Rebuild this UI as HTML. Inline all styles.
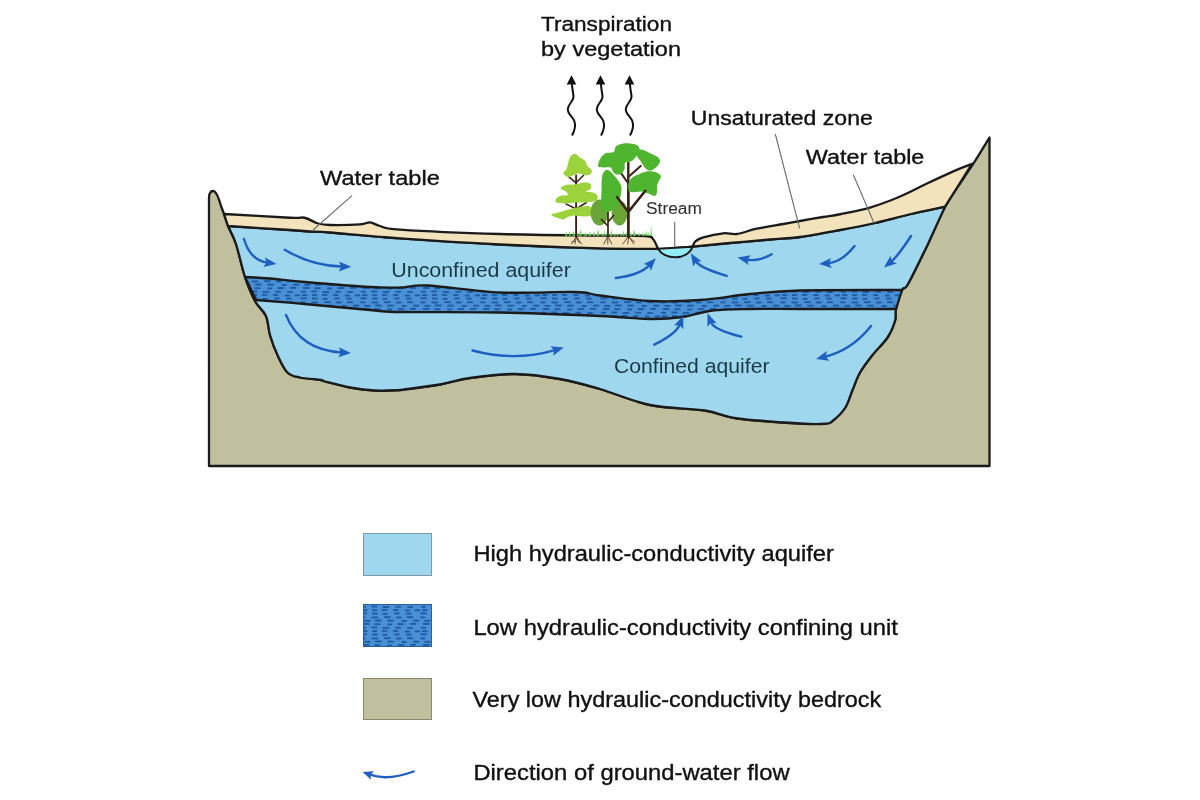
<!DOCTYPE html>
<html><head><meta charset="utf-8"><style>
html,body{margin:0;padding:0;background:#fff;width:1200px;height:800px;overflow:hidden}
svg{display:block;will-change:transform}
</style></head><body>
<svg width="1200" height="800" viewBox="0 0 1200 800">
<defs>
<pattern id="dash" patternUnits="userSpaceOnUse" width="60" height="21" x="0" y="0">
<rect width="60" height="21" fill="#4a90d4"/>
<g fill="#1f5ca6"><rect x="1.9" y="0.2" width="5.5" height="1.9"/><rect x="12.1" y="0.2" width="5.0" height="1.9"/><rect x="21.8" y="-0.1" width="5.5" height="1.9"/><rect x="33.3" y="0.1" width="5.0" height="1.9"/><rect x="44.8" y="0.6" width="5.0" height="1.9"/><rect x="54.7" y="0.4" width="5.3" height="1.9"/><rect x="0.4" y="3.4" width="6.5" height="1.9"/><rect x="12.1" y="3.6" width="5.5" height="1.9"/><rect x="22.6" y="3.9" width="5.0" height="1.9"/><rect x="34.1" y="3.5" width="5.5" height="1.9"/><rect x="46.1" y="3.7" width="5.5" height="1.9"/><rect x="0.4" y="7.4" width="5.0" height="1.9"/><rect x="11.6" y="7.5" width="6.5" height="1.9"/><rect x="24.2" y="7.2" width="6.5" height="1.9"/><rect x="36.1" y="7.5" width="5.5" height="1.9"/><rect x="47.0" y="7.3" width="6.0" height="1.9"/><rect x="4.4" y="10.9" width="6.0" height="1.9"/><rect x="15.1" y="10.5" width="6.5" height="1.9"/><rect x="27.3" y="10.7" width="6.5" height="1.9"/><rect x="41.7" y="11.0" width="5.0" height="1.9"/><rect x="53.2" y="10.7" width="6.0" height="1.9"/><rect x="3.0" y="14.0" width="6.5" height="1.9"/><rect x="14.3" y="14.3" width="6.0" height="1.9"/><rect x="27.1" y="14.5" width="5.0" height="1.9"/><rect x="37.7" y="14.1" width="6.5" height="1.9"/><rect x="50.1" y="13.9" width="6.0" height="1.9"/><rect x="1.0" y="17.8" width="5.0" height="1.9"/><rect x="11.3" y="17.5" width="6.0" height="1.9"/><rect x="22.6" y="18.1" width="6.5" height="1.9"/><rect x="35.4" y="17.8" width="5.5" height="1.9"/><rect x="47.3" y="18.1" width="5.5" height="1.9"/></g>
</pattern>
</defs>
<path d="M209,466 L209,198 C209,192 212,190 214.5,191.5 C217,193 219,199 221,206 L224,214 C224.67,216 226,221 228,226 C230,231 233.17,235.5 236,244 C238.83,252.5 241.83,267.5 245,277 C248.17,286.5 251.5,294.5 255,301 C258.5,307.5 263.5,310.33 266,316 C268.5,321.67 268.08,328.5 270,335 C271.92,341.5 274.58,348.75 277.5,355 C280.42,361.25 283.75,368.75 287.5,372.5 C291.25,376.25 294.42,376.25 300,377.5 C305.58,378.75 316.83,379.33 321,380 C325.17,380.67 320.17,380.25 325,381.5 C329.83,382.75 341.67,386 350,387.5 C358.33,389 366.67,390.08 375,390.5 C383.33,390.92 389.17,391 400,390 C410.83,389 428.33,386.5 440,384.5 C451.67,382.5 457.5,379.75 470,378 C482.5,376.25 500,373.83 515,374 C530,374.17 545.83,376.5 560,379 C574.17,381.5 585,384.67 600,389 C615,393.33 632.5,401.42 650,405 C667.5,408.58 690.42,408.25 705,410.5 C719.58,412.75 721.67,416.33 737.5,418.5 C753.33,420.67 785.42,422.67 800,423.5 C814.58,424.33 819.58,423.92 825,423.5 C830.42,423.08 829.17,423.58 832.5,421 C835.83,418.42 841.67,413.17 845,408 C848.33,402.83 850,395.92 852.5,390 C855,384.08 856.67,378.33 860,372.5 C863.33,366.67 867.92,360.83 872.5,355 C877.08,349.17 883.75,343.17 887.5,337.5 C891.25,331.83 893.58,325.75 895,321 C896.42,316.25 894.83,314.17 896,309 C897.17,303.83 900,294.17 902,290 C904,285.83 903.75,291.5 908,284 C912.25,276.5 921.33,257.83 927.5,245 C933.67,232.17 937.5,220.33 945,207 C952.5,193.67 965.08,176.58 972.5,165 C979.92,153.42 986.67,142.08 989.5,137.5 L989.5,466 Z" fill="#c0c09e" stroke="#1b1b1b" stroke-width="2.3" stroke-linejoin="round"/>
<path d="M228,226 C238.33,226.67 276.33,229.08 290,230 C303.67,230.92 303.33,231.08 310,231.5 C316.67,231.92 315,231.35 330,232.5 C345,233.65 371.67,236.4 400,238.4 C428.33,240.4 466.67,242.83 500,244.5 C533.33,246.17 573.67,247.68 600,248.4 C626.33,249.12 645.5,248.87 658,248.8 C670.5,248.73 669.22,248.35 675,248 C680.78,247.65 683.53,247.53 692.7,246.7 C701.87,245.87 717.12,244.2 730,243 C742.88,241.8 758.33,240.5 770,239.5 C781.67,238.5 788.33,238.58 800,237 C811.67,235.42 827.5,232.33 840,230 C852.5,227.67 863.33,225.62 875,223 C886.67,220.38 898.33,216.97 910,214.25 C921.67,211.53 939.17,207.96 945,206.7 L927.5,245 C924.25,251.5 912.25,276.5 908,284 C903.75,291.5 904,285.83 902,290 C900,294.17 897.17,303.83 896,309 C894.83,314.17 896.42,316.25 895,321 C893.58,325.75 891.25,331.83 887.5,337.5 C883.75,343.17 877.08,349.17 872.5,355 C867.92,360.83 863.33,366.67 860,372.5 C856.67,378.33 855,384.08 852.5,390 C850,395.92 848.33,402.83 845,408 C841.67,413.17 835.83,418.38 832.5,421 C829.17,423.62 830.42,423.33 825,423.75 C819.58,424.17 814.58,424.38 800,423.5 C785.42,422.62 753.33,420.67 737.5,418.5 C721.67,416.33 719.58,412.75 705,410.5 C690.42,408.25 667.5,408.58 650,405 C632.5,401.42 615,393.33 600,389 C585,384.67 574.17,381.5 560,379 C545.83,376.5 530,374.17 515,374 C500,373.83 482.5,376.25 470,378 C457.5,379.75 451.67,382.5 440,384.5 C428.33,386.5 406.67,389.08 400,390 C393.33,390.92 404.17,389.92 400,390 C395.83,390.08 383.33,390.92 375,390.5 C366.67,390.08 358.33,389 350,387.5 C341.67,386 329.83,382.75 325,381.5 C320.17,380.25 325.17,380.67 321,380 C316.83,379.33 305.58,378.75 300,377.5 C294.42,376.25 291.25,376.25 287.5,372.5 C283.75,368.75 280.42,361.25 277.5,355 C274.58,348.75 271.92,341.5 270,335 C268.08,328.5 268.5,321.67 266,316 C263.5,310.33 258.5,307.5 255,301 C251.5,294.5 248.17,286.5 245,277 C241.83,267.5 238.83,252.5 236,244 C233.17,235.5 229.33,229 228,226 Z" fill="#9fd7ee" stroke="#1b1b1b" stroke-width="2.3" stroke-linejoin="round"/>
<path d="M224,214 C235,214.62 276.58,217.12 290,217.75 C303.42,218.38 299.83,216.79 304.5,217.75 C309.17,218.71 313.75,222.29 318,223.5 C322.25,224.71 323,224.85 330,225 C337,225.15 353.33,224.83 360,224.4 C366.67,223.97 366.67,222.13 370,222.4 C373.33,222.67 375,224.8 380,226 C385,227.2 380,228.27 400,229.6 C420,230.93 466.67,233 500,234 C533.33,235 575.83,235.27 600,235.6 C624.17,235.93 636.17,235.43 645,236 C653.83,236.57 650.83,236.87 653,239 C655.17,241.13 657.17,247.17 658,248.8 L658,248.8 C648.33,248.73 626.33,249.12 600,248.4 C573.67,247.68 533.33,246.17 500,244.5 C466.67,242.83 428.33,240.4 400,238.4 C371.67,236.4 345,233.65 330,232.5 C315,231.35 316.67,231.92 310,231.5 C303.33,231.08 303.67,230.92 290,230 C276.33,229.08 238.33,226.67 228,226 L228,226 C227.33,224 224.67,216 224,214 Z" fill="#f2e3bc" stroke="#1b1b1b" stroke-width="2.3" stroke-linejoin="round"/>
<path d="M692.7,246.7 C693.13,245.8 693.53,242.87 695.3,241.3 C697.07,239.73 698.63,238.63 703.3,237.3 C707.97,235.97 717.73,233.85 723.3,233.3 C728.87,232.75 731.13,234.77 736.7,234 C742.27,233.23 748.93,230.37 756.7,228.7 C764.47,227.03 776.08,225.28 783.3,224 C790.52,222.72 793.38,222.17 800,221 C806.62,219.83 816.33,218.12 823,217 C829.67,215.88 832.3,215.78 840,214.25 C847.7,212.72 859.48,210.62 869.2,207.8 C878.92,204.98 888.58,201.38 898.3,197.3 C908.02,193.22 917.77,187.87 927.5,183.3 C937.23,178.73 949.28,173.15 956.7,169.9 C964.12,166.65 969.45,164.82 972,163.8 L972,163.8 C967.5,170.95 949.5,199.55 945,206.7 L945,206.7 C939.17,207.96 921.67,211.53 910,214.25 C898.33,216.97 886.67,220.38 875,223 C863.33,225.62 852.5,227.67 840,230 C827.5,232.33 811.67,235.42 800,237 C788.33,238.58 781.67,238.5 770,239.5 C758.33,240.5 742.88,241.8 730,243 C717.12,244.2 698.92,246.08 692.7,246.7 Z" fill="#f2e3bc" stroke="#1b1b1b" stroke-width="2.3" stroke-linejoin="round"/>
<path d="M658,248.8 C664,260 687,261 692.7,246.7 Z" fill="#94eef5" stroke="#1b1b1b" stroke-width="2"/>
<path d="M245,277 C249.17,277.25 260,277.67 270,278.5 C280,279.33 288.33,280.58 305,282 C321.67,283.42 354.17,286.08 370,287 C385.83,287.92 390.42,287.75 400,287.5 C409.58,287.25 410.83,284.67 427.5,285.5 C444.17,286.33 475.42,291.42 500,292.5 C524.58,293.58 558.33,291.5 575,292 C591.67,292.5 587.5,294 600,295.5 C612.5,297 633.33,300.25 650,301 C666.67,301.75 683.33,301.17 700,300 C716.67,298.83 733.33,295.58 750,294 C766.67,292.42 774.67,291.17 800,290.5 C825.33,289.83 885,290.08 902,290 L902,290 C901,293.17 897,305.83 896,309 L896,309 C880,309 824.33,309 800,309 C775.67,309 764.58,308.75 750,309 C735.42,309.25 723.75,309.17 712.5,310.5 C701.25,311.83 692.92,315.58 682.5,317 C672.08,318.42 663.75,319.17 650,319 C636.25,318.83 625,317.08 600,316 C575,314.92 533.33,313.17 500,312.5 C466.67,311.83 421.67,312.42 400,312 C378.33,311.58 385,311.25 370,310 C355,308.75 329,306.17 310,304.5 C291,302.83 265,300.75 256,300 L256,300 C254.17,296.17 246.83,280.83 245,277 Z" fill="url(#dash)" stroke="#1b1b1b" stroke-width="2.3" stroke-linejoin="round"/>

<g stroke="#5a3a28" stroke-width="0.9" fill="none" stroke-linecap="round">
<path d="M576.5,236 q-2,4 -5,8 M576.5,236 q2,4 5,8 M576.5,237 q-1,3 -1.5,7 M576.5,237 q1,4 3,6 M575,241 l-3,1"/>
<path d="M607.8,236 q-1.5,4 -4,8 M607.8,236 q2,4 4,8 M607.8,237 q0,4 0,7"/>
<path d="M628.8,236 q-3,4 -6,8 M628.8,236 q2,4 5,8 M628.8,237 q-1,4 -1,7 M628.8,237 q3,3 6,5"/>
</g>
<g fill="#62cf4e" opacity="0.9">
<path d="M565.0,236 L566.8,231.2 L567.3,236 Z M568.6,236 L569.3,231.0 L571.0,236 Z M572.4,236 L573.1,230.5 L575.1,236 Z M576.0,236 L577.6,232.6 L578.7,236 Z M579.0,236 L580.7,229.1 L581.9,236 Z M583.5,236 L584.3,232.4 L585.1,236 Z M585.4,236 L585.6,232.2 L587.3,236 Z M588.5,236 L589.9,231.2 L591.3,236 Z M593.0,236 L594.1,231.0 L595.4,236 Z M596.3,236 L598.3,229.0 L599.3,236 Z M601.1,236 L601.7,231.7 L603.0,236 Z M603.3,236 L604.9,229.9 L605.4,236 Z M606.5,236 L607.1,229.2 L609.3,236 Z M610.0,236 L611.8,229.4 L612.2,236 Z M613.3,236 L614.9,232.7 L615.7,236 Z M616.5,236 L618.3,232.7 L618.5,236 Z M620.5,236 L620.8,232.5 L622.4,236 Z M622.7,236 L623.7,229.8 L624.5,236 Z M625.7,236 L626.4,232.2 L628.3,236 Z M630.0,236 L630.6,232.5 L632.1,236 Z M632.9,236 L634.0,229.1 L635.6,236 Z M637.9,236 L639.5,232.2 L640.0,236 Z M641.6,236 L642.7,232.6 L644.6,236 Z M645.4,236 L646.1,229.9 L647.4,236 Z M647.8,236 L648.5,232.6 L650.1,236 Z"/>
<path d="M650.5,236 l0.5,-12 l0.9,12 Z"/>
</g>
<g stroke="#3b2417" fill="none" stroke-linecap="round">
<path d="M576.1,237 V175.5" stroke-width="1.9"/>
<path d="M576.1,182.8 L569.1,177.2 M576.1,182.8 L583.6,175.3 M576.1,209 L566,203.9 M576.1,209 L586.4,202.5" stroke-width="1.6"/>
<path d="M628.3,237 V162.8" stroke-width="2.4"/>
<path d="M628.3,183.5 L621.4,173.7 M628.3,177 L640.7,165.9 M628.3,212 L617,197 M628.3,212 L645.4,190.7" stroke-width="2"/>
</g>
<path fill="#9cd23c" d="M563.5,172.5 C563.8,171.4 565.85,170.58 566.7,168.7 C567.55,166.82 567.82,163.45 568.6,161.2 C569.38,158.95 570.15,156.37 571.4,155.2 C572.65,154.03 574.68,153.82 576.1,154.2 C577.52,154.58 578.48,156.48 579.9,157.5 C581.32,158.52 583.35,158.9 584.6,160.3 C585.85,161.7 586.23,164.33 587.4,165.9 C588.57,167.47 590.98,168.45 591.6,169.7 C592.22,170.95 591.8,172.47 591.1,173.4 C590.4,174.33 588.8,175.13 587.4,175.3 C586,175.47 584.27,174.72 582.7,174.4 C581.13,174.08 579.57,173.25 578,173.4 C576.43,173.55 574.87,174.67 573.3,175.3 C571.73,175.93 570,177.2 568.6,177.2 C567.2,177.2 565.75,176.08 564.9,175.3 C564.05,174.52 563.2,173.6 563.5,172.5Z"/><path fill="#9cd23c" d="M561.1,187.5 C561.95,186.72 564.2,185.25 566.7,184.7 C569.2,184.15 572.97,184.6 576.1,184.2 C579.23,183.8 583,182.22 585.5,182.3 C588,182.38 590.32,183.52 591.1,184.7 C591.88,185.88 591.13,188.32 590.2,189.4 C589.27,190.48 585.03,190.67 585.5,191.2 C585.97,191.73 590.97,191.82 593,192.6 C595.03,193.38 597.23,194.57 597.7,195.9 C598.17,197.23 597.52,199.5 595.8,200.6 C594.08,201.7 590.68,202.18 587.4,202.5 C584.12,202.82 579.85,202.35 576.1,202.5 C572.35,202.65 568.18,203.4 564.9,203.4 C561.62,203.4 557.88,203.28 556.4,202.5 C554.92,201.72 555.37,199.8 556,198.7 C556.63,197.6 558.25,196.52 560.2,195.9 C562.15,195.28 566.77,195.78 567.7,195 C568.63,194.22 566.82,192.13 565.8,191.2 C564.78,190.27 562.38,190.02 561.6,189.4 C560.82,188.78 560.25,188.28 561.1,187.5Z"/><path fill="#9cd23c" d="M551.3,214.7 C551.93,214.08 554.83,213.58 557.4,212.8 C559.97,212.02 563.27,210.93 566.7,210 C570.13,209.07 574.25,207.83 578,207.2 C581.75,206.57 586.87,205.58 589.2,206.2 C591.53,206.82 591.68,209.33 592,210.9 C592.32,212.47 592.5,214.67 591.1,215.6 C589.7,216.53 586.42,216.5 583.6,216.5 C580.78,216.5 577.02,215.43 574.2,215.6 C571.38,215.77 568.42,216.87 566.7,217.5 C564.98,218.13 565.15,219.25 563.9,219.4 C562.65,219.55 560.92,218.88 559.2,218.4 C557.48,217.92 554.92,217.12 553.6,216.5 C552.28,215.88 550.67,215.32 551.3,214.7Z"/><ellipse cx="599.5" cy="212.5" rx="9" ry="13" fill="#6ba538"/><ellipse cx="619.5" cy="213" rx="8" ry="12.5" fill="#6ba538"/><path stroke="#3b2417" stroke-width="1.7" fill="none" d="M608,237 V212 M608,226 L601,219 M608,222 L614,215"/><path fill="#4fb52f" d="M601.2,205 C600.95,201.67 601.37,194.7 601.5,190 C601.63,185.3 601.4,180.03 602,176.8 C602.6,173.57 603.93,171.63 605.1,170.6 C606.27,169.57 607.32,169.57 609,170.6 C610.68,171.63 613.27,174.48 615.2,176.8 C617.13,179.12 619.57,182.18 620.6,184.5 C621.63,186.82 621.58,188.12 621.4,190.7 C621.22,193.28 620.57,197.12 619.5,200 C618.43,202.88 616.92,206 615,208 C613.08,210 610,211.67 608,212 C606,212.33 604.13,211.17 603,210 C601.87,208.83 601.45,208.33 601.2,205Z"/><path fill="#4fb52f" d="M598.1,165.1 C598.23,163.87 598.53,161.63 599.7,159.7 C600.87,157.77 602.78,154.78 605.1,153.5 C607.42,152.22 611.8,153.17 613.6,152 C615.4,150.83 614.48,147.87 615.9,146.5 C617.32,145.13 619.77,144.32 622.1,143.8 C624.43,143.28 627.43,143.2 629.9,143.4 C632.37,143.6 635.28,144.08 636.9,145 C638.52,145.92 639.35,147.48 639.6,148.9 C639.85,150.32 639.12,152.08 638.4,153.5 C637.68,154.92 636.47,156.1 635.3,157.4 C634.13,158.7 633.08,160.4 631.4,161.3 C629.72,162.2 626.35,161.52 625.2,162.8 C624.05,164.08 625.13,167.18 624.5,169 C623.87,170.82 622.83,172.8 621.4,173.7 C619.97,174.6 617.33,174.8 615.9,174.4 C614.47,174 613.7,172.45 612.8,171.3 C611.9,170.15 612.17,168.13 610.5,167.5 C608.83,166.87 604.73,167.57 602.8,167.5 C600.87,167.43 599.68,167.5 598.9,167.1 C598.12,166.7 597.97,166.33 598.1,165.1Z"/><path fill="#4fb52f" d="M636.9,151.2 C637.62,150.03 639.43,149.35 641.5,149.6 C643.57,149.85 646.72,151.53 649.3,152.7 C651.88,153.87 655.2,155.3 657,156.6 C658.8,157.9 659.83,159.2 660.1,160.5 C660.37,161.8 659.63,162.98 658.6,164.4 C657.57,165.82 655.45,167.97 653.9,169 C652.35,170.03 650.85,170.85 649.3,170.6 C647.75,170.35 646.03,169.05 644.6,167.5 C643.17,165.95 641.93,163.12 640.7,161.3 C639.47,159.48 637.83,158.28 637.2,156.6 C636.57,154.92 636.18,152.37 636.9,151.2Z"/><path fill="#4fb52f" d="M628.3,184.5 C628.68,182.43 629.72,179.98 631.4,178.3 C633.08,176.62 635.68,175.57 638.4,174.4 C641.12,173.23 644.85,171.68 647.7,171.3 C650.55,170.92 653.3,171.32 655.5,172.1 C657.7,172.88 660.38,174.45 660.9,176 C661.42,177.55 659.25,179.72 658.6,181.4 C657.95,183.08 657.27,184.28 657,186.1 C656.73,187.92 657.38,190.63 657,192.3 C656.62,193.97 655.98,195.85 654.7,196.1 C653.42,196.35 651.5,194.57 649.3,193.8 C647.1,193.03 644.08,191.75 641.5,191.5 C638.92,191.25 635.87,192.43 633.8,192.3 C631.73,192.17 630.02,192 629.1,190.7 C628.18,189.4 627.92,186.57 628.3,184.5Z"/><path stroke="#3b2417" stroke-width="2.4" fill="none" stroke-linecap="round" d="M628.3,237 V193 M628.3,212 L617,197 M628.3,212 L645.4,190.7"/>
<line x1="352" y1="195.6" x2="313" y2="230" stroke="#6a6a6a" stroke-width="1.1"/>
<line x1="775.3" y1="134" x2="799.6" y2="228.3" stroke="#6a6a6a" stroke-width="1.1"/>
<line x1="853.3" y1="174.7" x2="873.9" y2="222.8" stroke="#6a6a6a" stroke-width="1.1"/>
<line x1="674.7" y1="222" x2="674.7" y2="247" stroke="#6a6a6a" stroke-width="1.1"/>
<path d="M244,239 Q250,260 267.23,262.6" fill="none" stroke="#1f5fc0" stroke-width="2.4" stroke-linecap="round"/><polygon points="276.5,264 263.39,267.08 266.61,262.51 264.89,257.19" fill="#1f5fc0"/>
<path d="M284.7,249.7 Q312,266 341.93,266.53" fill="none" stroke="#1f5fc0" stroke-width="2.4" stroke-linecap="round"/><polygon points="351.3,266.7 338.71,271.48 341.3,266.52 338.89,261.48" fill="#1f5fc0"/>
<path d="M615.8,278 Q640,275 649.36,265.11" fill="none" stroke="#1f5fc0" stroke-width="2.4" stroke-linecap="round"/><polygon points="655.8,258.3 650.84,270.82 648.93,265.56 643.58,263.94" fill="#1f5fc0"/>
<path d="M726.7,275.8 Q700,268 695.77,261.25" fill="none" stroke="#1f5fc0" stroke-width="2.4" stroke-linecap="round"/><polygon points="690.8,253.3 701.67,261.24 696.11,261.78 693.19,266.55" fill="#1f5fc0"/>
<path d="M771.7,254.2 Q758,262 746.66,259.51" fill="none" stroke="#1f5fc0" stroke-width="2.4" stroke-linecap="round"/><polygon points="737.5,257.5 750.78,255.3 747.27,259.64 748.64,265.06" fill="#1f5fc0"/>
<path d="M854.5,246 Q842,262 828.34,263.19" fill="none" stroke="#1f5fc0" stroke-width="2.4" stroke-linecap="round"/><polygon points="819,264 831.02,257.94 828.96,263.13 831.89,267.9" fill="#1f5fc0"/>
<path d="M911,236 Q898,256 891.24,261.55" fill="none" stroke="#1f5fc0" stroke-width="2.4" stroke-linecap="round"/><polygon points="884,267.5 890.49,255.7 891.73,261.15 896.83,263.43" fill="#1f5fc0"/>
<path d="M871,326 Q852,350 825.1,356.73" fill="none" stroke="#1f5fc0" stroke-width="2.4" stroke-linecap="round"/><polygon points="816,359 826.91,351.12 825.7,356.57 829.34,360.82" fill="#1f5fc0"/>
<path d="M654.2,344.7 Q676,334 679.81,324.5" fill="none" stroke="#1f5fc0" stroke-width="2.4" stroke-linecap="round"/><polygon points="683.3,315.8 683.29,329.26 679.58,325.08 674.01,325.54" fill="#1f5fc0"/>
<path d="M741.3,336.7 Q714,330 710.9,322.04" fill="none" stroke="#1f5fc0" stroke-width="2.4" stroke-linecap="round"/><polygon points="707.5,313.3 716.69,323.14 711.13,322.62 707.37,326.76" fill="#1f5fc0"/>
<path d="M472.5,350.5 Q515,362 554.76,350.17" fill="none" stroke="#1f5fc0" stroke-width="2.4" stroke-linecap="round"/><polygon points="563.75,347.5 553.19,355.86 554.16,350.35 550.34,346.27" fill="#1f5fc0"/>
<path d="M286,315 Q300,350 341.64,352.45" fill="none" stroke="#1f5fc0" stroke-width="2.4" stroke-linecap="round"/><polygon points="351,353 338.23,357.26 341.02,352.41 338.82,347.27" fill="#1f5fc0"/>
<path d="M413.5,771.5 Q388,781 370.02,774.63" fill="none" stroke="#1f5fc0" stroke-width="2.4" stroke-linecap="round"/><polygon points="362.6,772 374,771.27 370.52,774.81 370.99,779.75" fill="#1f5fc0"/>
<text x="541" y="31.2" font-family="Liberation Sans, sans-serif" font-size="20.5" fill="#111" stroke="#111" stroke-width="0.35" textLength="131" lengthAdjust="spacingAndGlyphs">Transpiration</text>
<text x="541" y="55.7" font-family="Liberation Sans, sans-serif" font-size="20.5" fill="#111" stroke="#111" stroke-width="0.35" textLength="140" lengthAdjust="spacingAndGlyphs">by vegetation</text>
<text x="320" y="184.7" font-family="Liberation Sans, sans-serif" font-size="20.5" fill="#111" stroke="#111" stroke-width="0.35" textLength="119.8" lengthAdjust="spacingAndGlyphs">Water table</text>
<text x="690.8" y="124.7" font-family="Liberation Sans, sans-serif" font-size="20" fill="#111" stroke="#111" stroke-width="0.35" textLength="182" lengthAdjust="spacingAndGlyphs">Unsaturated zone</text>
<text x="805.7" y="163.9" font-family="Liberation Sans, sans-serif" font-size="20" fill="#111" stroke="#111" stroke-width="0.35" textLength="118.7" lengthAdjust="spacingAndGlyphs">Water table</text>
<text x="646" y="213.6" font-family="Liberation Sans, sans-serif" font-size="16" fill="#333" stroke="#333" stroke-width="0.1" textLength="56" lengthAdjust="spacingAndGlyphs">Stream</text>
<text x="391.3" y="276.7" font-family="Liberation Sans, sans-serif" font-size="20" fill="#1a3a48" stroke="#1a3a48" stroke-width="0" textLength="179.5" lengthAdjust="spacingAndGlyphs">Unconfined aquifer</text>
<text x="614" y="372.5" font-family="Liberation Sans, sans-serif" font-size="20.5" fill="#1a3a48" stroke="#1a3a48" stroke-width="0" textLength="155.5" lengthAdjust="spacingAndGlyphs">Confined aquifer</text>
<rect x="363.5" y="533.5" width="68" height="42" fill="#9fd7ee" stroke="#7d98a8" stroke-width="1"/>
<rect x="363.5" y="604.5" width="68" height="42" fill="url(#dash)" stroke="#2a5f98" stroke-width="1"/>
<rect x="363.5" y="678.5" width="68" height="41" fill="#c0c09e" stroke="#8a8a70" stroke-width="1"/>
<text x="473.4" y="561.1" font-family="Liberation Sans, sans-serif" font-size="21.5" fill="#111" stroke="#111" stroke-width="0.35" textLength="360.5" lengthAdjust="spacingAndGlyphs">High hydraulic-conductivity aquifer</text>
<text x="473.4" y="634.6" font-family="Liberation Sans, sans-serif" font-size="21.5" fill="#111" stroke="#111" stroke-width="0.35" textLength="424.6" lengthAdjust="spacingAndGlyphs">Low hydraulic-conductivity confining unit</text>
<text x="472.5" y="706.9" font-family="Liberation Sans, sans-serif" font-size="21.5" fill="#111" stroke="#111" stroke-width="0.35" textLength="408.7" lengthAdjust="spacingAndGlyphs">Very low hydraulic-conductivity bedrock</text>
<text x="473.4" y="780.4" font-family="Liberation Sans, sans-serif" font-size="21.5" fill="#111" stroke="#111" stroke-width="0.35" textLength="316.2" lengthAdjust="spacingAndGlyphs">Direction of ground-water flow</text>
<path d="M572,135.5 C574.5,131 575.8,126 574.5,121.5 C573,117 567.5,114 567.8,109 C568,104 574,101 573.5,96 C573,92 572,88 572,84" fill="none" stroke="#111" stroke-width="2"/>
<polygon points="571.5,75.3 576.3,84.5 566.7,84.5" fill="#111"/>
<path d="M601,135.5 C603.5,131 604.8,126 603.5,121.5 C602,117 596.5,114 596.8,109 C597,104 603,101 602.5,96 C602,92 601,88 601,84" fill="none" stroke="#111" stroke-width="2"/>
<polygon points="600.5,75.3 605.3,84.5 595.7,84.5" fill="#111"/>
<path d="M630,135.5 C632.5,131 633.8,126 632.5,121.5 C631,117 625.5,114 625.8,109 C626,104 632,101 631.5,96 C631,92 630,88 630,84" fill="none" stroke="#111" stroke-width="2"/>
<polygon points="629.5,75.3 634.3,84.5 624.7,84.5" fill="#111"/>
</svg>
</body></html>
